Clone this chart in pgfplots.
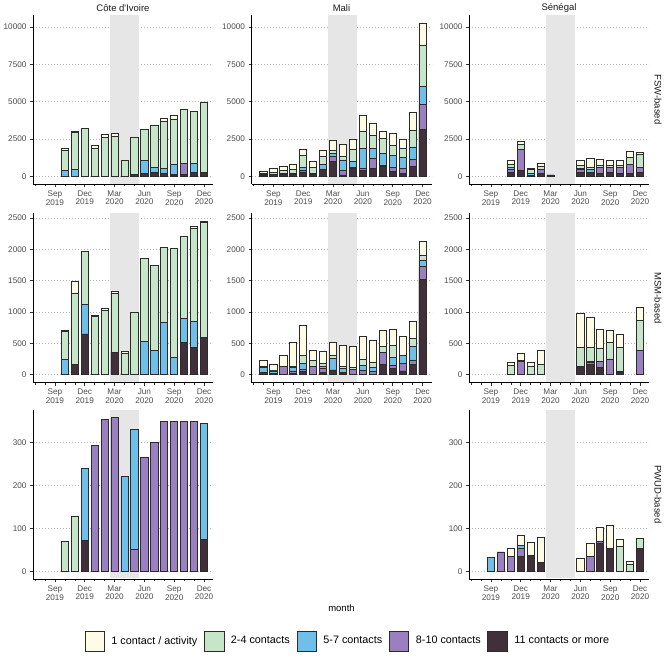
\documentclass[border=0pt]{standalone}
\usepackage{pgfplots}
\pgfplotsset{compat=1.18}
\usepackage{pgfplotstable}
\usepackage{fontspec}
\setmainfont{Liberation Sans}

\definecolor{c1}{HTML}{FFFCE5}
\definecolor{c2}{HTML}{C7E5C9}
\definecolor{c3}{HTML}{70BFE8}
\definecolor{c4}{HTML}{9A80C0}
\definecolor{c5}{HTML}{41303A}
\definecolor{shadegray}{HTML}{E6E6E6}
\definecolor{tickgray}{HTML}{4D4D4D}
\definecolor{gridgray}{HTML}{B3B3B3}
\definecolor{barline}{HTML}{2B2B2B}

% columns: x = month index (Jan 2019 = 1), d = 11+, p = 8-10, b = 5-7, g = 2-4, c = 1 contact
\pgfplotstableread{
x d p b g c
10 20 0 360 1400 70
11 20 0 470 2450 50
12 0 0 0 3200 15
13 0 0 0 1900 200
14 20 0 0 2590 200
15 20 0 0 2660 200
16 0 0 0 1095 0
17 130 0 0 2460 0
18 180 20 895 2030 0
19 250 20 355 2790 0
20 200 20 340 3100 200
21 110 20 695 3015 220
22 150 700 0 3660 0
23 290 0 560 3500 0
24 270 0 0 4710 0
}\ciFSW

\pgfplotstableread{
x d p b g c
8 100 0 30 80 150
9 130 20 20 120 270
10 130 20 30 200 310
11 130 30 80 250 310
12 310 90 220 800 380
13 150 10 60 360 420
14 470 40 300 570 360
15 1000 340 220 200 690
16 110 270 730 270 800
17 560 60 360 850 660
18 380 180 1340 1110 1070
19 560 670 620 910 780
20 650 80 820 1000 480
21 330 250 820 670 800
22 180 360 760 580 600
23 670 490 820 1110 1200
24 3125 1715 1190 2740 1450
}\maFSW

\pgfplotstableread{
x d p b g c
11 250 230 130 220 220
12 380 1420 40 340 160
13 80 20 100 280 60
14 200 250 40 180 220
15 110 0 0 0 0
18 300 180 60 200 310
19 250 20 230 110 570
20 220 380 20 110 385
21 270 310 0 135 335
22 220 360 0 180 290
23 220 580 0 450 420
24 270 330 20 840 150
}\seFSW

\pgfplotstableread{
x d p b g c
10 0 0 245 445 10
11 160 0 0 1130 190
12 650 0 470 840 0
13 0 0 0 930 10
14 0 0 0 1020 40
15 360 0 0 940 30
16 0 0 0 340 30
17 0 0 0 990 0
18 0 0 530 1320 0
19 0 0 380 1360 0
20 0 0 840 1190 0
21 0 0 280 1730 0
22 510 0 380 1320 0
23 440 0 410 1490 20
24 600 0 0 1830 20
}\ciMSM

\pgfplotstableread{
x d p b g c
8 35 0 85 20 80
9 20 0 40 15 85
10 0 125 0 0 180
11 20 40 50 30 380
12 50 30 105 115 490
13 0 125 0 95 175
14 35 70 35 40 190
15 75 0 190 45 200
16 15 20 60 30 335
17 0 90 0 20 340
18 0 75 70 95 370
19 0 50 60 80 350
20 170 185 0 95 260
21 100 55 120 185 265
22 60 125 115 10 305
23 160 75 215 125 270
24 1520 200 110 80 220
}\maMSM

\pgfplotstableread{
x d p b g c
11 0 0 0 150 50
12 0 210 0 10 120
13 0 0 0 140 60
14 0 0 0 160 230
18 130 0 0 310 540
19 170 30 10 220 490
20 110 100 0 210 300
21 0 250 0 270 190
22 30 0 30 380 210
24 0 390 0 470 220
}\seMSM

\pgfplotstableread{
x d p b g c
10 0 0 0 70 0
11 0 0 0 129 0
12 72 0 167 0 0
13 0 294 0 0 0
14 0 354 0 0 0
15 0 358 0 0 0
16 0 0 221 0 0
17 0 50 280 0 0
18 0 265 0 0 0
19 0 300 0 0 0
20 0 350 0 0 0
21 0 350 0 0 0
22 0 350 0 0 0
23 0 350 0 0 0
24 75 0 269 0 0
}\ciPWUD

\pgfplotstableread{
x d p b g c
9 0 0 33 0 0
10 0 45 0 0 0
11 0 34 0 0 19
12 35 19 7 0 22
13 36 0 0 0 31
14 20 0 0 0 60
18 0 0 0 0 30
19 0 34 0 0 30
20 66 3 0 0 33
21 54 0 0 0 52
22 0 0 0 58 16
23 0 0 0 17 7
24 54 0 0 22 0
}\sePWUD

% stacked bars drawn as overlapping cumulative bars (tallest first)
\newcommand{\stackbars}[1]{%
  \addplot[bars, fill=c1] table[x=x, y expr=\thisrow{d}+\thisrow{p}+\thisrow{b}+\thisrow{g}+\thisrow{c}]{#1};
  \addplot[bars, fill=c2] table[x=x, y expr=\thisrow{d}+\thisrow{p}+\thisrow{b}+\thisrow{g}]{#1};
  \addplot[bars, fill=c3] table[x=x, y expr=\thisrow{d}+\thisrow{p}+\thisrow{b}]{#1};
  \addplot[bars, fill=c4] table[x=x, y expr=\thisrow{d}+\thisrow{p}]{#1};
  \addplot[bars, fill=c5] table[x=x, y=d]{#1};
}
% lockdown period (shaded band), drawn first so that it lies under the bars
\newcommand{\covid}[2]{%
  \addplot[fill=shadegray, draw=none, forget plot] coordinates {(14.5,#1) (17.45,#1) (17.45,#2) (14.5,#2)} -- cycle;
}

\pgfplotsset{
  bars/.style={ybar, bar width=0.72, bar shift=0pt, draw=barline, line width=0.75pt},
  panel/.style={
    scale only axis, width=180pt, height=169pt,
    anchor=south west,
    xmin=6.8, xmax=24.9,
    axis x line*=bottom, axis y line*=left,
    axis line style={line width=0.6pt, black, -},
    tick align=outside,
    major tick length=3pt, minor tick length=2pt,
    tick style={line width=0.5pt, black!80},
    xtick={9,12,15,18,21,24},
    xticklabels={{Sep\\2019},{Dec\\2019},{Mar\\2020},{Jun\\2020},{Sep\\2020},{Dec\\2020}},
    minor xtick={7,8,10,11,13,14,16,17,19,20,22,23},
    xticklabel style={align=center, font=\fontsize{8.2}{8.8}\selectfont, text=tickgray},
    yticklabel style={font=\fontsize{8.2}{9}\selectfont, text=tickgray},
    scaled y ticks=false,
    /pgf/number format/assume math mode=true,
    /pgf/number format/1000 sep={},
    ymajorgrids,
    major grid style={gridgray, line width=0.5pt, dash pattern=on 0.7pt off 2.3pt},
  },
  row1/.style={ymin=-500, ymax=10800, ytick={0,2500,5000,7500,10000}},
  row2/.style={ymin=-125, ymax=2570, ytick={0,500,1000,1500,2000,2500}},
  row3/.style={ymin=-18, ymax=376, ytick={0,100,200,300}},
}

\begin{document}
\begin{tikzpicture}
\useasboundingbox (0,0) rectangle (669pt,657pt);

% Row 1: FSW-based
\begin{axis}[panel, row1, at={(33pt,473pt)}]
  \covid{-470}{10800}
  \stackbars{\ciFSW}
\end{axis}
\begin{axis}[panel, row1, at={(251.5pt,473pt)}]
  \covid{-470}{10800}
  \stackbars{\maFSW}
\end{axis}
\begin{axis}[panel, row1, at={(469pt,473pt)}]
  \covid{-470}{10800}
  \stackbars{\seFSW}
\end{axis}

% Row 2: MSM-based
\begin{axis}[panel, row2, at={(33pt,274.5pt)}]
  \covid{-118}{2570}
  \stackbars{\ciMSM}
\end{axis}
\begin{axis}[panel, row2, at={(251.5pt,274.5pt)}]
  \covid{-118}{2570}
  \stackbars{\maMSM}
\end{axis}
\begin{axis}[panel, row2, at={(469pt,274.5pt)}]
  \covid{-118}{2570}
  \stackbars{\seMSM}
\end{axis}

% Row 3: PWUD-based
\begin{axis}[panel, row3, at={(33pt,78pt)}]
  \covid{-16.8}{376}
  \stackbars{\ciPWUD}
\end{axis}
\begin{axis}[panel, row3, at={(469pt,78pt)}]
  \covid{-16.8}{376}
  \stackbars{\sePWUD}
\end{axis}

% Legend
\begin{axis}[hide axis, scale only axis, width=669pt, height=657pt,
  at={(0pt,0pt)}, anchor=south west, xmin=0, xmax=1, ymin=0, ymax=1,
  legend columns=5,
  legend style={at={(0.5184,0.0244)}, anchor=center, draw=none, fill=none,
    font=\fontsize{10.8}{12}\selectfont,
    nodes={inner sep=0pt},
    /tikz/every odd column/.append style={column sep=6.7pt},
    /tikz/every even column/.append style={column sep=6.7pt}},
  legend image code/.code={\draw[#1] (0pt,-10pt) rectangle (19.5pt,10pt);},
]
  \addlegendimage{fill=c1, draw=barline, line width=0.75pt}
  \addlegendentry{1 contact / activity}
  \addlegendimage{fill=c2, draw=barline, line width=0.75pt}
  \addlegendentry{2-4 contacts}
  \addlegendimage{fill=c3, draw=barline, line width=0.75pt}
  \addlegendentry{5-7 contacts}
  \addlegendimage{fill=c4, draw=barline, line width=0.75pt}
  \addlegendentry{8-10 contacts}
  \addlegendimage{fill=c5, draw=barline, line width=0.75pt}
  \addlegendentry{11 contacts or more}
\end{axis}

% Facet strips
\node[font=\fontsize{9.5}{11}\selectfont, text=black!90] at (123pt,649pt) {Côte d\textquotesingle Ivoire};
\node[font=\fontsize{9.5}{11}\selectfont, text=black!90] at (341.5pt,649pt) {Mali};
\node[font=\fontsize{9.5}{11}\selectfont, text=black!90] at (559pt,649pt) {Sénégal};
\node[font=\fontsize{9.5}{11}\selectfont, text=black!90, rotate=-90] at (658pt,557.5pt) {FSW-based};
\node[font=\fontsize{9.5}{11}\selectfont, text=black!90, rotate=-90] at (658pt,359pt) {MSM-based};
\node[font=\fontsize{9.5}{11}\selectfont, text=black!90, rotate=-90] at (658pt,162.5pt) {PWUD-based};
\node[font=\fontsize{9.5}{11}\selectfont] at (341.5pt,49pt) {month};
\end{tikzpicture}
\end{document}
